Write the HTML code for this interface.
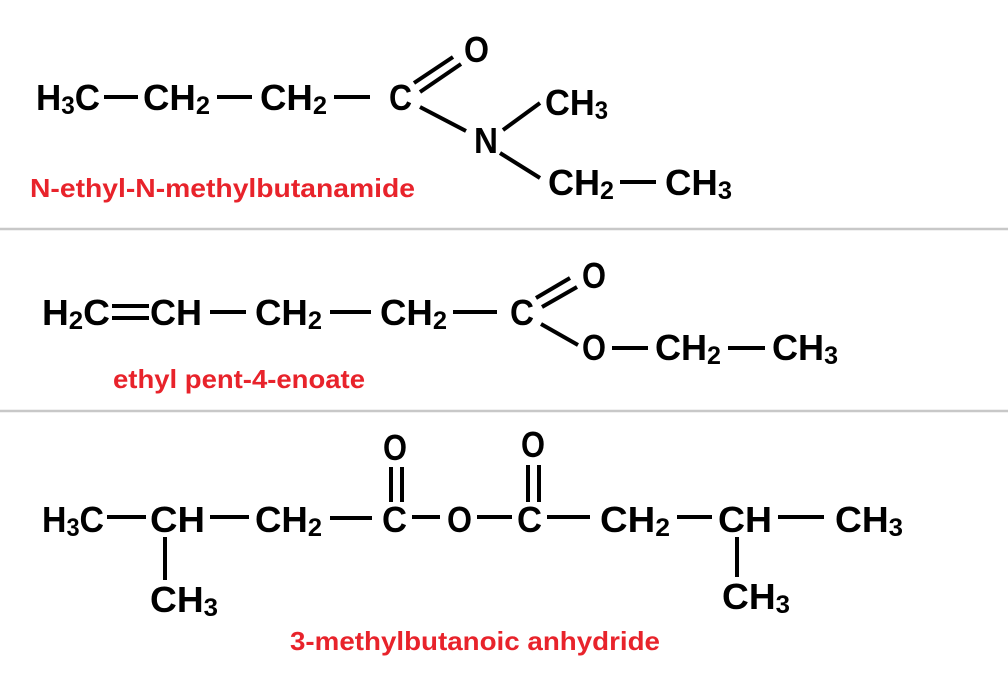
<!DOCTYPE html>
<html><head><meta charset="utf-8"><style>
html,body{margin:0;padding:0;background:#fff;}
svg{display:block}
text{font-family:"Liberation Sans",Arial,sans-serif;font-weight:bold;}
.m{font-size:36px;fill:#000}
.s{font-size:25px}
.r{font-size:26px;fill:#e8232b}
line{stroke:#000;stroke-width:4}
</style></head><body>
<svg width="1008" height="678" viewBox="0 0 1008 678" xmlns="http://www.w3.org/2000/svg">
<rect width="1008" height="678" fill="#fff"/>
<line x1="0" y1="229" x2="1008" y2="229" style="stroke:#c8c8c8;stroke-width:2.5"/>
<line x1="0" y1="411" x2="1008" y2="411" style="stroke:#c8c8c8;stroke-width:2.5"/>

<!-- Row 1 -->
<text class="m" x="36" y="110" textLength="64" lengthAdjust="spacingAndGlyphs">H<tspan class="s" dy="4">3</tspan><tspan dy="-4">C</tspan></text>
<line x1="104" y1="97" x2="138" y2="97"/>
<text class="m" x="143" y="110" textLength="67" lengthAdjust="spacingAndGlyphs">CH<tspan class="s" dy="4">2</tspan></text>
<line x1="217" y1="97" x2="252" y2="97"/>
<text class="m" x="260" y="110" textLength="67" lengthAdjust="spacingAndGlyphs">CH<tspan class="s" dy="4">2</tspan></text>
<line x1="334" y1="97" x2="370" y2="97"/>
<text class="m" x="389" y="110" textLength="23" lengthAdjust="spacingAndGlyphs">C</text>
<line x1="414" y1="83" x2="453" y2="57"/>
<line x1="420" y1="92" x2="461" y2="64"/>
<text class="m" x="464" y="62" textLength="25" lengthAdjust="spacingAndGlyphs">O</text>
<line x1="420" y1="107" x2="466" y2="131"/>
<text class="m" x="474" y="153" textLength="24" lengthAdjust="spacingAndGlyphs">N</text>
<line x1="503" y1="130" x2="540" y2="103"/>
<text class="m" x="545" y="115" textLength="63" lengthAdjust="spacingAndGlyphs">CH<tspan class="s" dy="4">3</tspan></text>
<line x1="500" y1="153" x2="540" y2="178"/>
<text class="m" x="548" y="195" textLength="66" lengthAdjust="spacingAndGlyphs">CH<tspan class="s" dy="4">2</tspan></text>
<line x1="620" y1="182" x2="656" y2="182"/>
<text class="m" x="665" y="195" textLength="67" lengthAdjust="spacingAndGlyphs">CH<tspan class="s" dy="4">3</tspan></text>
<text class="r" x="30" y="197" textLength="385" lengthAdjust="spacingAndGlyphs">N-ethyl-N-methylbutanamide</text>

<!-- Row 2 -->
<text class="m" x="42" y="325" textLength="68" lengthAdjust="spacingAndGlyphs">H<tspan class="s" dy="4">2</tspan><tspan dy="-4">C</tspan></text>
<line x1="112" y1="306" x2="149" y2="306"/>
<line x1="112" y1="318" x2="149" y2="318"/>
<text class="m" x="150" y="325" textLength="52" lengthAdjust="spacingAndGlyphs">CH</text>
<line x1="210" y1="312" x2="246" y2="312"/>
<text class="m" x="255" y="325" textLength="67" lengthAdjust="spacingAndGlyphs">CH<tspan class="s" dy="4">2</tspan></text>
<line x1="330" y1="312" x2="371" y2="312"/>
<text class="m" x="380" y="325" textLength="67" lengthAdjust="spacingAndGlyphs">CH<tspan class="s" dy="4">2</tspan></text>
<line x1="453" y1="312" x2="497" y2="312"/>
<text class="m" x="510" y="325" textLength="24" lengthAdjust="spacingAndGlyphs">C</text>
<line x1="536" y1="298" x2="570" y2="278"/>
<line x1="542" y1="307" x2="577" y2="287"/>
<text class="m" x="582" y="288" textLength="24" lengthAdjust="spacingAndGlyphs">O</text>
<line x1="541" y1="324" x2="578" y2="345"/>
<text class="m" x="582" y="360" textLength="24" lengthAdjust="spacingAndGlyphs">O</text>
<line x1="612" y1="348" x2="648" y2="348"/>
<text class="m" x="655" y="360" textLength="66" lengthAdjust="spacingAndGlyphs">CH<tspan class="s" dy="4">2</tspan></text>
<line x1="728" y1="348" x2="765" y2="348"/>
<text class="m" x="772" y="360" textLength="66" lengthAdjust="spacingAndGlyphs">CH<tspan class="s" dy="4">3</tspan></text>
<text class="r" x="113" y="388" textLength="252" lengthAdjust="spacingAndGlyphs">ethyl pent-4-enoate</text>

<!-- Row 3 -->
<text class="m" x="42" y="532" textLength="62" lengthAdjust="spacingAndGlyphs">H<tspan class="s" dy="4">3</tspan><tspan dy="-4">C</tspan></text>
<line x1="107" y1="517" x2="146" y2="517"/>
<text class="m" x="150" y="532" textLength="55" lengthAdjust="spacingAndGlyphs">CH</text>
<line x1="210" y1="517" x2="249" y2="517"/>
<text class="m" x="255" y="532" textLength="67" lengthAdjust="spacingAndGlyphs">CH<tspan class="s" dy="4">2</tspan></text>
<line x1="330" y1="518" x2="372" y2="518"/>
<text class="m" x="382" y="532" textLength="25" lengthAdjust="spacingAndGlyphs">C</text>
<line x1="412" y1="517" x2="440" y2="517"/>
<text class="m" x="447" y="532" textLength="25" lengthAdjust="spacingAndGlyphs">O</text>
<line x1="477" y1="517" x2="512" y2="517"/>
<text class="m" x="517" y="532" textLength="25" lengthAdjust="spacingAndGlyphs">C</text>
<line x1="547" y1="517" x2="590" y2="517"/>
<text class="m" x="600" y="532" textLength="70" lengthAdjust="spacingAndGlyphs">CH<tspan class="s" dy="4">2</tspan></text>
<line x1="677" y1="517" x2="712" y2="517"/>
<text class="m" x="718" y="532" textLength="54" lengthAdjust="spacingAndGlyphs">CH</text>
<line x1="778" y1="517" x2="824" y2="517"/>
<text class="m" x="835" y="532" textLength="68" lengthAdjust="spacingAndGlyphs">CH<tspan class="s" dy="4">3</tspan></text>
<text class="m" x="383" y="460" textLength="24" lengthAdjust="spacingAndGlyphs">O</text>
<line x1="391" y1="467" x2="391" y2="502"/>
<line x1="402" y1="467" x2="402" y2="502"/>
<text class="m" x="521" y="457" textLength="24" lengthAdjust="spacingAndGlyphs">O</text>
<line x1="528" y1="465" x2="528" y2="502"/>
<line x1="539" y1="465" x2="539" y2="502"/>
<line x1="165" y1="537" x2="165" y2="580"/>
<text class="m" x="150" y="612" textLength="68" lengthAdjust="spacingAndGlyphs">CH<tspan class="s" dy="4">3</tspan></text>
<line x1="737" y1="537" x2="737" y2="577"/>
<text class="m" x="722" y="609" textLength="68" lengthAdjust="spacingAndGlyphs">CH<tspan class="s" dy="4">3</tspan></text>
<text class="r" x="290" y="650" textLength="370" lengthAdjust="spacingAndGlyphs">3-methylbutanoic anhydride</text>
</svg>
</body></html>
